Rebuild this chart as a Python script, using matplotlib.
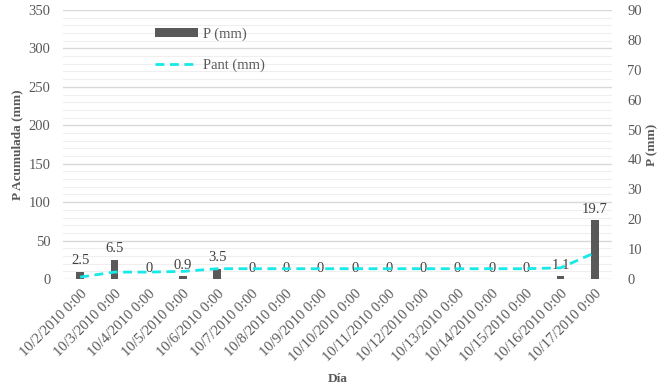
import matplotlib
matplotlib.use("Agg")
import matplotlib.pyplot as plt
import numpy as np
from matplotlib.ticker import MultipleLocator
from matplotlib.patches import Patch
from matplotlib.lines import Line2D

dates = ['10/2/2010 0:00', '10/3/2010 0:00', '10/4/2010 0:00', '10/5/2010 0:00',
         '10/6/2010 0:00', '10/7/2010 0:00', '10/8/2010 0:00', '10/9/2010 0:00',
         '10/10/2010 0:00', '10/11/2010 0:00', '10/12/2010 0:00', '10/13/2010 0:00',
         '10/14/2010 0:00', '10/15/2010 0:00', '10/16/2010 0:00', '10/17/2010 0:00']
p_mm = [2.5, 6.5, 0, 0.9, 3.5, 0, 0, 0, 0, 0, 0, 0, 0, 0, 1.1, 19.7]
pant_mm = [2.5, 9.0, 9.0, 9.9, 13.4, 13.4, 13.4, 13.4, 13.4, 13.4, 13.4, 13.4,
           13.4, 13.4, 14.5, 34.2]
p_labels = ['2.5', '6.5', '0', '0.9', '3.5', '0', '0', '0', '0', '0', '0', '0',
            '0', '0', '1.1', '19.7']

plt.rcParams['font.family'] = ['Liberation Serif', 'DejaVu Serif']
txt = '#595959'

fig = plt.figure(figsize=(6.64, 3.87), dpi=100)
ax_bar = fig.add_axes([63/664, 1-279/387, (612-63)/664, (279-10)/387])
ax_line = ax_bar.twinx()

x = np.arange(len(dates))
LMAX, RMAX = 350, 90

# bars on right scale (bottom layer)
ax_bar.bar(x, p_mm, width=0.23, color='#595959', zorder=3)
ax_bar.set_ylim(0, RMAX)
ax_bar.set_xlim(-0.5, len(dates)-0.5)
# gridlines following left scale
for v in range(0, LMAX+1, 10):
    major = (v % 50 == 0)
    ax_bar.axhline(v*RMAX/LMAX, color='#d9d9d9' if major else '#efefef',
                   lw=1.0 if major else 0.8, zorder=1)
for xi, val, lab in zip(x, p_mm, p_labels):
    ax_bar.annotate(lab, (xi, val), xytext=(0, 3), textcoords='offset points',
                    ha='center', va='bottom', fontsize=10.5, color='#404040', zorder=5)

# line on left scale (top layer)
ax_line.plot(x, pant_mm, color='#17e8e8', lw=2.0, ls=(0, (3.2, 2.0)), zorder=4,
             label='Pant (mm)')
ax_line.set_ylim(0, LMAX)
ax_line.set_zorder(ax_bar.get_zorder()+1)
ax_line.patch.set_visible(False)

# swap sides: line axis ticks left, bar axis ticks right
ax_line.yaxis.tick_left()
ax_line.yaxis.set_label_position('left')
ax_bar.yaxis.tick_right()
ax_bar.yaxis.set_label_position('right')
ax_line.yaxis.set_major_locator(MultipleLocator(50))
ax_bar.yaxis.set_major_locator(MultipleLocator(10))

for a in (ax_bar, ax_line):
    for s in a.spines.values():
        s.set_visible(False)
    a.tick_params(axis='both', length=0, labelsize=10.5, labelcolor=txt)

ax_line.tick_params(axis='y', pad=9)
ax_bar.tick_params(axis='y', pad=11)
ax_bar.set_xticks(x)
ax_bar.set_xticklabels(dates, rotation=45, ha='right', rotation_mode='anchor')
ax_bar.tick_params(axis='x', pad=6)
ax_line.tick_params(axis='x', labelbottom=False, bottom=False)

ax_line.set_ylabel('P Acumulada (mm)', fontsize=9.5, fontweight='bold', color=txt, labelpad=4)
ax_bar.set_ylabel('P (mm)', fontsize=9.5, fontweight='bold', color=txt, labelpad=3)
ax_bar.set_xlabel('Día', fontsize=9.5, fontweight='bold', color=txt, labelpad=6)

# legend
handles = [Patch(facecolor='#595959', label='P (mm)'),
           Line2D([], [], color='#17e8e8', lw=2.0, ls=(0, (3.2, 2.0)), label='Pant (mm)')]
leg = ax_line.legend(handles=handles, loc='upper left', bbox_to_anchor=(0.168, 0.935),
                     frameon=False, fontsize=10.5, handlelength=2.95, handleheight=0.55,
                     labelspacing=1.2, borderpad=0, borderaxespad=0, handletextpad=0.3)
for t in leg.get_texts():
    t.set_color(txt)

fig.savefig('out.png', dpi=100)
